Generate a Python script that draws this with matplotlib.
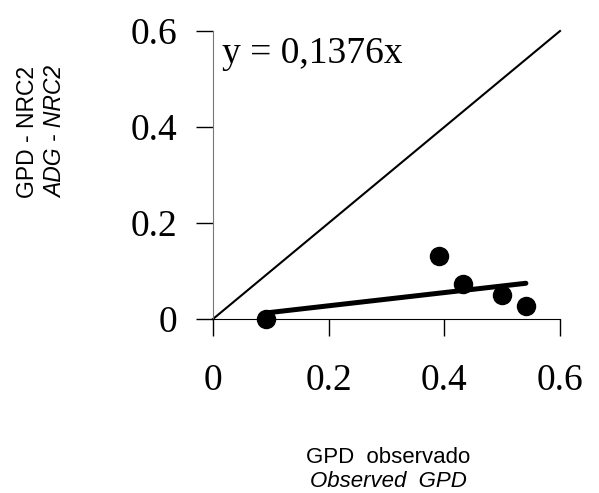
import matplotlib.pyplot as plt
import numpy as np

# observado vs NRC2
gpd_obs = [0.091, 0.39, 0.432, 0.50, 0.541]
gpd_nrc2 = [0.0, 0.131, 0.072, 0.05, 0.028]
slope = 0.1376
ticks = [0, 0.2, 0.4, 0.6]
tick_labels = ['0', '0.2', '0.4', '0.6']

fig = plt.figure(figsize=(5.99, 4.93), dpi=100)
ax = fig.add_axes([213/599, 1-319/493, (560-213)/599, (319-31)/493])

# linea 1:1
ax.plot([0, 0.6], [0, 0.6], color='black', lw=1.5, clip_on=False)
# regresion
xr = np.array([min(gpd_obs), max(gpd_obs)])
ax.plot(xr, slope*xr, color='black', lw=3.6, solid_capstyle='round', zorder=3)
ax.plot(gpd_obs, gpd_nrc2, 'o', color='black', ms=13, clip_on=False, zorder=4)

ax.set_xlim(0, 0.6)
ax.set_ylim(0, 0.6)
ax.set_xticks(ticks)
ax.set_xticklabels(tick_labels)
ax.set_yticks(ticks)
ax.set_yticklabels(tick_labels)
for s in ['top', 'right']:
    ax.spines[s].set_visible(False)
ax.spines['left'].set_color('#777777')
ax.spines['bottom'].set_color('black')
ax.tick_params(axis='both', direction='out', length=12, width=1, color='black',
               labelsize=27, labelfontfamily='Liberation Serif')
ax.tick_params(axis='x', pad=20)
ax.tick_params(axis='y', pad=14)

fig.text(222/599, 1-63/493, 'y = 0,1376x', family='Liberation Serif', fontsize=27,
         ha='left', va='baseline')

# etiquetas de ejes
fig.text(0.648, 1-463/493, 'GPD  observado', family='Liberation Sans', fontsize=16,
         ha='center', va='baseline')
fig.text(0.648, 1-487/493, 'Observed  GPD', family='Liberation Sans', fontsize=16,
         style='italic', ha='center', va='baseline')
fig.text(28/599, 1-132/493, 'GPD - NRC2', family='Liberation Sans', fontsize=16.5,
         rotation=90, ha='center', va='center')
fig.text(56/599, 1-132/493, 'ADG - NRC2', family='Liberation Sans', fontsize=16.5,
         style='italic', rotation=90, ha='center', va='center')

fig.savefig('out.png', dpi=100)
